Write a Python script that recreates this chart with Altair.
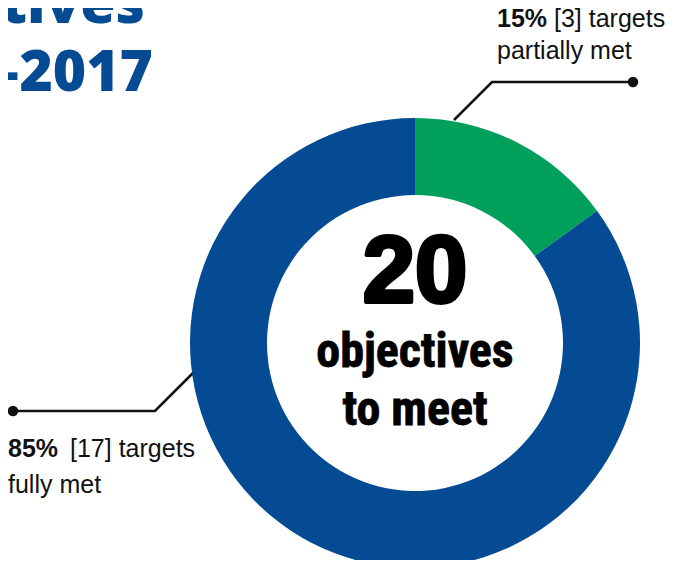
import altair as alt
import pandas as pd

# ---- data ----
categories = ["partially met", "fully met"]
counts = [3, 17]
total = sum(counts)
center_lines = ["objectives", "to meet"]
title_lines = ["Objectives", "2015\u20132017"]

BLUE = "#044B94"
GREEN = "#00A05A"

pct = [f"{round(100 * c / total)}%" for c in counts]
bracket = [f"[{c}] targets" for c in counts]

# ---- layout (chart pixel coordinates) ----
CX, CY = 407, 335
R_OUT, R_IN = 225, 148

arc_df = pd.DataFrame({"status": categories, "count": counts, "ord": [0, 1]})

lines_df = pd.DataFrame({
    "id": ["a", "a", "a", "b", "b", "b"],
    "ord": [0, 1, 2, 0, 1, 2],
    "x": [446, 484, 625, 186, 147, 5],
    "y": [112, 74, 74, 364, 403, 403],
})
dots_df = pd.DataFrame({"x": [625, 5], "y": [74, 403]})

bold_df = pd.DataFrame({"t": pct, "x": [489, 0], "y": [19, 449]})
reg_df = pd.DataFrame({
    "t": [bracket[0], categories[0], bracket[1], categories[1]],
    "x": [546, 489, 62, 0],
    "y": [19, 51, 449, 485],
})
title_df = pd.DataFrame({"t": title_lines, "x": [137, 145], "y": [15, 83]})
center_df = pd.DataFrame({"t": center_lines, "y": [359, 417]})
num_df = pd.DataFrame({"t": [str(total)], "y": [294]})

X = lambda: alt.X("x:Q", scale=None, axis=None)
Y = lambda: alt.Y("y:Q", scale=None, axis=None)

lines = alt.Chart(lines_df).mark_line(color="#111111", strokeWidth=2.5).encode(
    x=X(), y=Y(), detail="id:N", order="ord:Q"
)

arcs = alt.Chart(arc_df).mark_arc(innerRadius=R_IN, outerRadius=R_OUT).encode(
    theta=alt.Theta("count:Q", stack=True),
    color=alt.Color("status:N", scale=alt.Scale(domain=categories, range=[GREEN, BLUE]), legend=None),
    order=alt.Order("ord:Q"),
    x=alt.value(CX),
    y=alt.value(CY),
)

dots = alt.Chart(dots_df).mark_point(filled=True, color="#111111", size=110, opacity=1).encode(
    x=X(), y=Y()
)

bold_txt = alt.Chart(bold_df).mark_text(
    align="left", baseline="alphabetic", font="Liberation Sans", fontWeight="bold",
    fontSize=25, color="#111111"
).encode(x=X(), y=Y(), text="t:N")

reg_txt = alt.Chart(reg_df).mark_text(
    align="left", baseline="alphabetic", font="Liberation Sans",
    fontSize=25, color="#111111"
).encode(x=X(), y=Y(), text="t:N")

title_txt = alt.Chart(title_df).mark_text(
    align="right", baseline="alphabetic", font="Open Sans", fontWeight=800,
    fontSize=57, color=BLUE
).encode(x=X(), y=Y(), text="t:N")

center_txt = alt.Chart(center_df).mark_text(
    align="center", baseline="alphabetic",
    font="Liberation Sans Narrow, Roboto Condensed, Liberation Sans",
    fontWeight="bold", fontSize=48, color="#000000", stroke="#000000", strokeWidth=0.8
).encode(x=alt.value(CX), y=Y(), text="t:N")

num_txt = alt.Chart(num_df).mark_text(
    align="center", baseline="alphabetic", font="Liberation Sans",
    fontWeight="bold", fontSize=94, color="#000000", stroke="#000000", strokeWidth=4,
    strokeJoin="round"
).encode(x=alt.value(CX), y=Y(), text="t:N")

chart = alt.layer(
    lines, arcs, dots, bold_txt, reg_txt, title_txt, center_txt, num_txt
).properties(
    width=663, height=552, padding=0, autosize=alt.AutoSizeParams(type="none"),
    background="white"
).configure_view(strokeWidth=0, stroke="transparent")

chart.save("out.html", embed_options={"renderer": "svg", "actions": False})
